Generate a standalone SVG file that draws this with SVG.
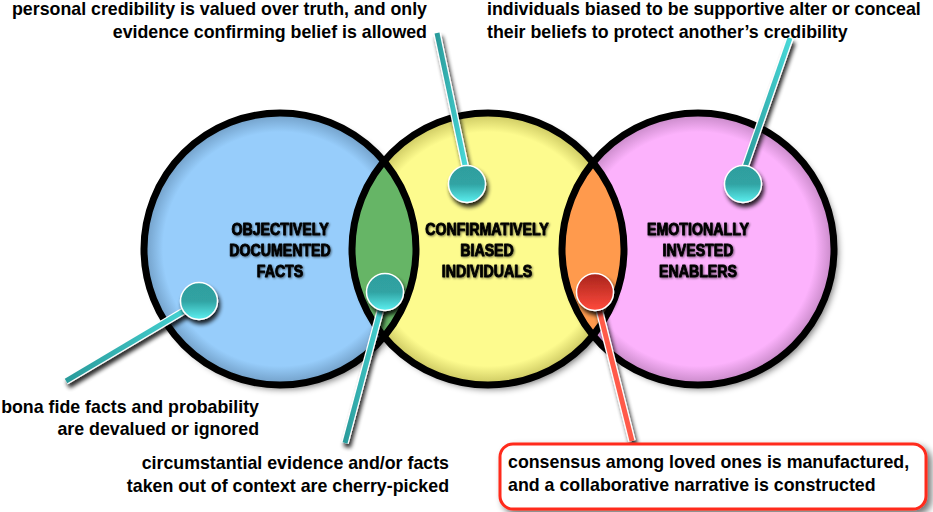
<svg xmlns="http://www.w3.org/2000/svg" width="933" height="512" viewBox="0 0 933 512">
<style>
  .ring{fill:none;stroke:#000;stroke-width:7}
  .lbl{font-family:"Liberation Sans",Arial,sans-serif;font-weight:bold;font-size:16.5px;fill:#000;stroke:#000;stroke-width:0.9;stroke-linejoin:round;text-anchor:middle}
  .cap{font-family:"Liberation Sans",Arial,sans-serif;font-weight:bold;font-size:17.8px;fill:#000}
  .r{text-anchor:end}
  .stickW{stroke:#fff;stroke-width:7.5;stroke-linecap:butt}
  .stickT{stroke:url(#tealStick);stroke-width:5;stroke-linecap:butt}
  .stickR{stroke:#ff5a48;stroke-width:5;stroke-linecap:butt}
  .ball{stroke:#fff;stroke-width:1.5}
</style>
<defs>
  <filter id="shadow" x="-20%" y="-20%" width="150%" height="150%">
    <feGaussianBlur in="SourceAlpha" stdDeviation="3.5"/>
    <feOffset dx="4" dy="4" result="b"/>
    <feComponentTransfer><feFuncA type="linear" slope="0.55"/></feComponentTransfer>
    <feMerge><feMergeNode/><feMergeNode in="SourceGraphic"/></feMerge>
  </filter>
  <filter id="dark" x="-50%" y="-50%" width="200%" height="200%">
    <feGaussianBlur in="SourceAlpha" stdDeviation="2"/>
    <feOffset dx="2" dy="4" result="b"/>
    <feComponentTransfer><feFuncA type="linear" slope="0.85"/></feComponentTransfer>
    <feMerge><feMergeNode/><feMergeNode in="SourceGraphic"/></feMerge>
  </filter>
  <filter id="soft" x="-10%" y="-30%" width="120%" height="160%">
    <feGaussianBlur in="SourceAlpha" stdDeviation="0.8"/>
    <feOffset dx="0.8" dy="1"/>
    <feComponentTransfer><feFuncA type="linear" slope="0.5"/></feComponentTransfer>
    <feMerge><feMergeNode/><feMergeNode in="SourceGraphic"/></feMerge>
  </filter>
  <radialGradient id="gBlue"><stop offset="0.86" stop-color="#97cdfb"/><stop offset="1" stop-color="#6f9cc4"/></radialGradient>
  <radialGradient id="gYellow"><stop offset="0.86" stop-color="#fdfb8e"/><stop offset="1" stop-color="#c9c55e"/></radialGradient>
  <radialGradient id="gPink"><stop offset="0.86" stop-color="#fcb2fc"/><stop offset="1" stop-color="#c486c4"/></radialGradient>
  <linearGradient id="tealBall" x1="0" y1="0" x2="0" y2="1">
    <stop offset="0" stop-color="#2f9e9e"/><stop offset="0.5" stop-color="#30a3a3"/><stop offset="1" stop-color="#5cf0f0"/>
  </linearGradient>
  <linearGradient id="redBall" x1="0" y1="0" x2="0" y2="1">
    <stop offset="0" stop-color="#a8241c"/><stop offset="1" stop-color="#ff4a3c"/>
  </linearGradient>
  <linearGradient id="tealStick" x1="0" y1="0" x2="1" y2="0">
    <stop offset="0" stop-color="#2a9b9b"/><stop offset="1" stop-color="#48d8d8"/>
  </linearGradient>
</defs>
<rect width="933" height="512" fill="#fff"/>

<g id="node-facts">
  <circle cx="280" cy="249" r="136" fill="url(#gBlue)" filter="url(#shadow)"/>
</g>
<g id="node-biased">
  <circle cx="488" cy="249" r="136" fill="url(#gYellow)" filter="url(#shadow)"/>
</g>
<g id="node-enablers">
  <circle cx="698" cy="249" r="136" fill="url(#gPink)" filter="url(#shadow)"/>
</g>
<g id="overlaps">
  <path d="M384,161.4 A136,136 0 0 1 384,336.6 A136,136 0 0 1 384,161.4 Z" fill="#66b566"/>
  <path d="M593,161.4 A136,136 0 0 1 593,336.6 A136,136 0 0 1 593,161.4 Z" fill="#ff9a4d"/>
</g>
<g id="outlines">
  <circle class="ring" cx="280" cy="249" r="136"/>
  <circle class="ring" cx="488" cy="249" r="136"/>
  <circle class="ring" cx="698" cy="249" r="136"/>
</g>
<g id="circle-labels" filter="url(#soft)">
  <g transform="translate(280,0) scale(0.86,1)">
    <text class="lbl" x="0" y="235">OBJECTIVELY</text>
    <text class="lbl" x="0" y="256">DOCUMENTED</text>
    <text class="lbl" x="0" y="277">FACTS</text>
  </g>
  <g transform="translate(487,0) scale(0.86,1)">
    <text class="lbl" x="0" y="235">CONFIRMATIVELY</text>
    <text class="lbl" x="0" y="256">BIASED</text>
    <text class="lbl" x="0" y="277">INDIVIDUALS</text>
  </g>
  <g transform="translate(698,0) scale(0.86,1)">
    <text class="lbl" x="0" y="235">EMOTIONALLY</text>
    <text class="lbl" x="0" y="256">INVESTED</text>
    <text class="lbl" x="0" y="277">ENABLERS</text>
  </g>
</g>

<g id="connectors">
  <g filter="url(#dark)">
    <line class="stickW" x1="437" y1="33" x2="466" y2="170"/>
    <line class="stickT" x1="437" y1="33" x2="466" y2="170"/>
    <line class="stickW" x1="790" y1="38" x2="744" y2="170"/>
    <line class="stickT" x1="790" y1="38" x2="744" y2="170"/>
    <line class="stickW" x1="66" y1="381" x2="199" y2="302"/>
    <line class="stickT" x1="66" y1="381" x2="199" y2="302"/>
    <line class="stickW" x1="345" y1="443" x2="385" y2="293"/>
    <line class="stickT" x1="345" y1="443" x2="385" y2="293"/>
    <line class="stickW" x1="632" y1="441" x2="595" y2="293"/>
    <line class="stickR" x1="632" y1="441" x2="595" y2="293"/>
  </g>
  <g filter="url(#dark)">
    <circle class="ball" cx="467" cy="184" r="18.5" fill="url(#tealBall)"/>
    <circle class="ball" cx="743" cy="184" r="18.5" fill="url(#tealBall)"/>
    <circle class="ball" cx="199" cy="301" r="18.5" fill="url(#tealBall)"/>
    <circle class="ball" cx="385" cy="292" r="18.5" fill="url(#tealBall)"/>
    <circle class="ball" cx="595" cy="292" r="18.5" fill="url(#redBall)"/>
  </g>
</g>

<g id="note-credibility">
  <text class="cap r" x="427" y="15">personal credibility is valued over truth, and only</text>
  <text class="cap r" x="427" y="37.5">evidence confirming belief is allowed</text>
</g>
<g id="note-supportive">
  <text class="cap" x="487" y="15">individuals biased to be supportive alter or conceal</text>
  <text class="cap" x="487" y="37.5">their beliefs to protect another’s credibility</text>
</g>
<g id="note-bonafide">
  <text class="cap r" x="259" y="413">bona fide facts and probability</text>
  <text class="cap r" x="259" y="435">are devalued or ignored</text>
</g>
<g id="note-circumstantial">
  <text class="cap r" x="449" y="469">circumstantial evidence and/or facts</text>
  <text class="cap r" x="449" y="492">taken out of context are cherry-picked</text>
</g>
<g id="note-consensus">
  <rect x="500" y="444" width="426" height="65" rx="13" fill="#fff" stroke="#ff2a1a" stroke-width="3" filter="url(#shadow)"/>
  <text class="cap" x="508" y="468">consensus among loved ones is manufactured,</text>
  <text class="cap" x="508" y="491">and a collaborative narrative is constructed</text>
</g>
</svg>
